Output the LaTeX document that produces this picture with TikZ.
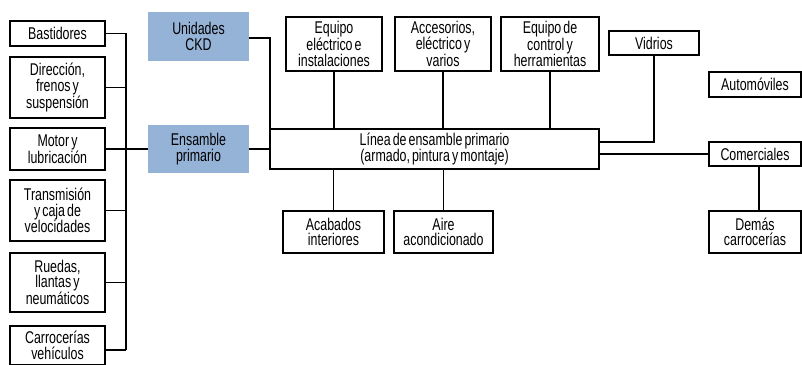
\documentclass[tikz,border=0pt]{standalone}
\usepackage{fontspec}
\setmainfont{Liberation Sans}[FakeStretch=0.73, WordSpace=0.6]
\definecolor{boxblue}{HTML}{95B3D7}
\begin{document}
\begin{tikzpicture}[x=1pt,y=-1pt,
  every node/.style={font=\fontsize{17}{15.5}\selectfont, align=center, inner sep=0pt, outer sep=0pt},
  box/.style={draw=black, line width=1.1pt, fill=white, minimum width=#1},
  bluebox/.style={fill=boxblue, minimum width=101pt},
  conn/.style={line width=1.1pt, draw=black}]
\useasboundingbox (0,0) rectangle (802,364);
% left column
\node[box=95pt, minimum height=25pt] (bast) at (57.5,33.5) {Bastidores};
\node[box=95pt, minimum height=61pt] (dir) at (57.5,87.5) {Dirección,\\frenos y\\suspensión};
\node[box=95pt, minimum height=42pt] (motor) at (57.5,149) {Motor y\\lubricación};
\node[box=95pt, minimum height=61pt] (trans) at (57.5,210.5) {Transmisión\\y caja de\\velocidades};
\node[box=95pt, minimum height=59pt] (rued) at (57.5,282.5) {Ruedas,\\llantas y\\neumáticos};
\node[box=95pt, minimum height=39pt] (carr) at (57.5,345.5) {Carrocerías\\vehículos};
\coordinate (busB) at (126,350);
% blue boxes
\node[bluebox, minimum height=49pt] (ckd) at (198.5,36.5) {Unidades\\CKD};
\node[bluebox, minimum height=48pt] (ens) at (198.5,149) {Ensamble\\primario};
% main line
\node[box=329pt, minimum height=40pt] (lin) at (434.5,149) {Línea de ensamble primario\\(armado, pintura y montaje)};
% top boxes
\node[box=96pt, minimum height=54pt] (ee) at (334,44) {Equipo\\eléctrico e\\instalaciones};
\node[box=96pt, minimum height=54pt] (acc) at (443,44) {Accesorios,\\eléctrico y\\varios};
\node[box=98pt, minimum height=54pt] (ctrl) at (550,44) {Equipo de\\control y\\herramientas};
\node[box=90pt, minimum height=24pt] (vid) at (654,43) {Vidrios};
% right
\node[box=92pt, minimum height=25pt] (auto) at (755,84.5) {Automóviles};
\node[box=92pt, minimum height=24pt] (com) at (755,154) {Comerciales};
\node[box=92pt, minimum height=42pt] (dem) at (755,232) {Demás\\carrocerías};
% bottom
\node[box=101pt, minimum height=42pt] (acab) at (333.5,232) {Acabados\\interiores};
\node[box=99pt, minimum height=42pt] (aire) at (443.5,232) {Aire\\acondicionado};
% connectors
\draw[conn] (bast.east) -| (busB);
\draw[conn] ([yshift=-4.5pt]carr.east) -- (busB);
\draw[conn] (dir.east) -- (dir.east -| busB);
\draw[conn] (trans.east) -- (trans.east -| busB);
\draw[conn] (rued.east) -- (rued.east -| busB);
\draw[conn] (motor.east) -- (ens.west);
\draw[conn] ([yshift=-1.5pt]ckd.east) -| (lin.north west);
\draw[conn] (ens.east) -- (lin.west);
\draw[conn] (ee.south) -- (ee.south |- lin.north);
\draw[conn] (acc.south) -- (acc.south |- lin.north);
\draw[conn] (ctrl.south) -- (ctrl.south |- lin.north);
\draw[conn] (vid.south) |- ([yshift=7pt]lin.east);
\draw[conn] (com.west) -- (com.west -| lin.east);
\draw[conn] ([xshift=4pt]com.south) -- ([xshift=4pt]dem.north);
\draw[conn] (acab.north |- lin.south) -- (acab.north);
\draw[conn] (aire.north |- lin.south) -- (aire.north);
\end{tikzpicture}
\end{document}
